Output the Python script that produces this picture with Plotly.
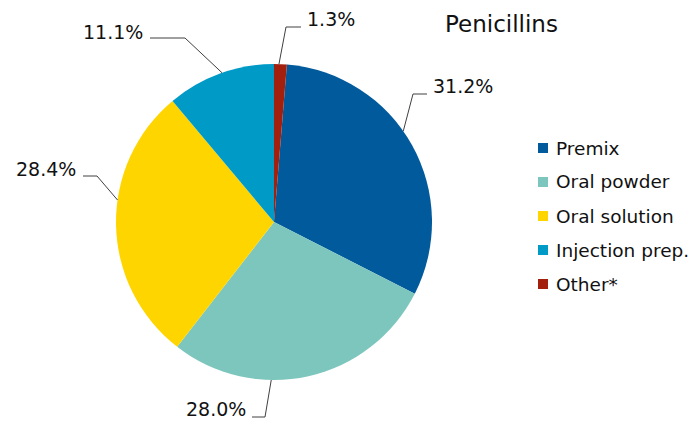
import math
import plotly.graph_objects as go

# ---- data ----
categories = ["Premix", "Oral powder", "Oral solution", "Injection prep.", "Other*"]
shares = [31.2, 28.0, 28.4, 11.1, 1.3]
colors = ["#005A9C", "#7DC6BE", "#FFD500", "#009AC7", "#A3200F"]
title_text = "Penicillins"

# ---- layout constants (pixels, in reference-image coordinates) ----
OFF = 8                      # page body margin of the html page
W, H = 697 - OFF, 421 - OFF  # figure size so the page fits the window
CX, CY, R = 274, 222, 158
FONT = "DejaVu Sans"
FS = 19
FS_LEG = 18.5

# label placement per slice: attach angle on rim (deg clockwise from top),
# elbow point, end of horizontal segment, text anchor point, text anchor side
label_style = [
    dict(ang=54.9, elbow=(413, 94), end=(427, 94), text=(431, 86), anchor="left"),
    dict(ang=181.0, elbow=(265, 417), end=(252, 417), text=(248, 409), anchor="right"),
    dict(ang=278.0, elbow=(97, 176), end=(83, 176), text=(78, 169), anchor="right"),
    dict(ang=340.8, elbow=(185, 38), end=(150, 38), text=(145, 32), anchor="right"),
    dict(ang=1.8, elbow=(286, 27), end=(301, 27), text=(305, 19), anchor="left"),
]


def px(x):
    return (x - OFF) / W


def py(y):
    return 1 - (y - OFF) / H


total = sum(shares)
rotation = 360 * shares[-1] / total

fig = go.Figure(
    go.Pie(
        labels=categories,
        values=shares,
        sort=False,
        direction="clockwise",
        rotation=rotation,
        marker=dict(colors=colors, line=dict(width=0)),
        textinfo="none",
        hoverinfo="label+percent",
        showlegend=False,
        domain=dict(x=[px(CX - R), px(CX + R)], y=[py(CY + R), py(CY - R)]),
    )
)

shapes = []
annotations = []

# data labels with leader lines
for val, st in zip(shares, label_style):
    a = math.radians(st["ang"])
    ax = CX + R * math.sin(a)
    ay = CY - R * math.cos(a)
    ex, ey = st["elbow"]
    hx, hy = st["end"]
    path = f"M {px(ax)},{py(ay)} L {px(ex)},{py(ey)} L {px(hx)},{py(hy)}"
    shapes.append(dict(type="path", xref="paper", yref="paper", path=path,
                       line=dict(color="#404040", width=1)))
    tx, ty = st["text"]
    annotations.append(dict(
        x=px(tx), y=py(ty), xref="paper", yref="paper",
        text=f"{val:.1f}%", showarrow=False,
        xanchor=st["anchor"], yanchor="middle",
        font=dict(family=FONT, size=FS, color="#111111"),
    ))

# title
annotations.append(dict(
    x=px(502), y=py(24), xref="paper", yref="paper", text=title_text,
    showarrow=False, xanchor="center", yanchor="middle",
    font=dict(family=FONT, size=23, color="#111111"),
))

# manual legend
LEG_X, LEG_Y0, LEG_DY, SQ = 543, 148, 34, 10
for i, (cat, col) in enumerate(zip(categories, colors)):
    yc = LEG_Y0 + i * LEG_DY
    shapes.append(dict(type="rect", xref="paper", yref="paper",
                       x0=px(LEG_X - SQ / 2), x1=px(LEG_X + SQ / 2),
                       y0=py(yc + SQ / 2), y1=py(yc - SQ / 2),
                       fillcolor=col, line=dict(width=0)))
    annotations.append(dict(
        x=px(554), y=py(yc), xref="paper", yref="paper", text=cat,
        showarrow=False, xanchor="left", yanchor="middle",
        font=dict(family=FONT, size=FS_LEG, color="#111111"),
    ))

fig.update_layout(
    width=W, height=H,
    margin=dict(l=0, r=0, t=0, b=0),
    paper_bgcolor="white", plot_bgcolor="white",
    shapes=shapes, annotations=annotations,
    font=dict(family=FONT),
)

fig.write_html("out.html")
